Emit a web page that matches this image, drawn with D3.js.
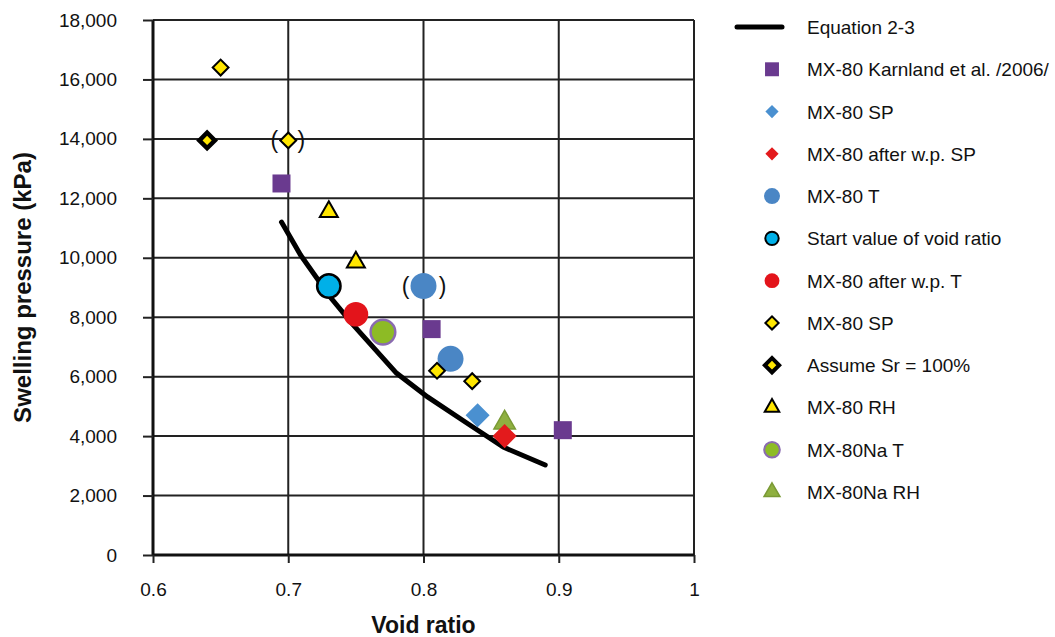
<!DOCTYPE html>
<html>
<head>
<meta charset="utf-8">
<script src="https://cdn.jsdelivr.net/npm/d3@7"></script>
<style>
  body { margin: 0; background: #fff; }
  svg { font-family: "Liberation Sans", Arial, sans-serif; }
</style>
</head>
<body>
<div id="chart"></div>
<script>
// --- data ---
const xTicks = [0.6, 0.7, 0.8, 0.9, 1];
const yTicks = [0, 2000, 4000, 6000, 8000, 10000, 12000, 14000, 16000, 18000];

const equationCurve = [
  [0.695, 11200], [0.709, 10100], [0.731, 8680], [0.748, 7740], [0.780, 6120],
  [0.803, 5320], [0.832, 4440], [0.859, 3630], [0.890, 3030]
];
const karnland = [[0.695, 12500], [0.806, 7600], [0.903, 4200]];
const mx80SP = [[0.84, 4700]];
const mx80AfterSP = [[0.86, 4000]];
const mx80T = [[0.80, 9050], [0.82, 6600]];
const startVoid = [[0.73, 9050]];
const mx80AfterT = [[0.75, 8100]];
const mx80SPyellow = [[0.65, 16400], [0.70, 13950], [0.81, 6200], [0.836, 5850]];
const assumeSr = [[0.64, 13950]];
const mx80RH = [[0.73, 11550], [0.75, 9850]];
const mx80NaT = [[0.77, 7500]];
const mx80NaRH = [[0.86, 4450]];
const bracketed = [[0.70, 13950], [0.80, 9050]]; // points shown in parentheses

const legendLabels = [
  'Equation 2-3', 'MX-80 Karnland et al. /2006/', 'MX-80 SP', 'MX-80 after w.p. SP',
  'MX-80 T', 'Start value of void ratio', 'MX-80 after w.p. T', 'MX-80 SP',
  'Assume Sr = 100%', 'MX-80 RH', 'MX-80Na T', 'MX-80Na RH'
];

// --- layout ---
const W = 1055, H = 637;
const margin = { top: 20, left: 153, right: 361, bottom: 82 };
const plotW = W - margin.left - margin.right;
const plotH = H - margin.top - margin.bottom;

const svg = d3.select('#chart').append('svg').attr('width', W).attr('height', H);
const g = svg.append('g').attr('transform', `translate(${margin.left},${margin.top})`);

const x = d3.scaleLinear().domain([0.6, 1]).range([0, plotW]);
const y = d3.scaleLinear().domain([0, 18000]).range([plotH, 0]);

// grid
g.selectAll('.hgrid').data(yTicks.slice(1)).join('line')
  .attr('x1', 0).attr('x2', plotW)
  .attr('y1', d => y(d)).attr('y2', d => y(d))
  .attr('stroke', '#222').attr('stroke-width', 2);
g.selectAll('.vgrid').data(xTicks.slice(1)).join('line')
  .attr('x1', d => x(d)).attr('x2', d => x(d))
  .attr('y1', 0).attr('y2', plotH)
  .attr('stroke', '#222').attr('stroke-width', 2);

// axes
const fmt = d3.format(',');
const yAxis = g.append('g')
  .call(d3.axisLeft(y).tickValues(yTicks).tickFormat(fmt).tickSize(10).tickPadding(26));
const xAxis = g.append('g').attr('transform', `translate(0,${plotH})`)
  .call(d3.axisBottom(x).tickValues(xTicks).tickFormat(d3.format('')).tickSize(8).tickPadding(20));
[yAxis, xAxis].forEach(a => {
  a.select('.domain').attr('stroke', '#111').attr('stroke-width', 3);
  a.selectAll('.tick line').attr('stroke', '#222').attr('stroke-width', 2);
  a.selectAll('.tick text').attr('fill', '#111').style('font-size', '19px');
});
yAxis.select('.domain').attr('d', `M0,${plotH}V0`);
xAxis.select('.domain').attr('d', `M0,0H${plotW}`);

// axis titles
svg.append('text')
  .attr('transform', `translate(31,${margin.top + plotH / 2}) rotate(-90)`)
  .attr('text-anchor', 'middle')
  .style('font-size', '24px').style('font-weight', 'bold').attr('fill', '#111')
  .text('Swelling pressure (kPa)');
svg.append('text')
  .attr('x', margin.left + plotW / 2).attr('y', 633)
  .attr('text-anchor', 'middle')
  .style('font-size', '23px').style('font-weight', 'bold').attr('fill', '#111')
  .text('Void ratio');

// equation curve
const line = d3.line().x(d => x(d[0])).y(d => y(d[1]));
g.append('path').datum(equationCurve)
  .attr('d', line).attr('fill', 'none')
  .attr('stroke', '#000').attr('stroke-width', 5).attr('stroke-linecap', 'round');

// marker styles
const styles = {
  karnland: { shape: d3.symbolSquare, size: 324, fill: '#6a3a8f', stroke: 'none', sw: 0 },
  mx80SP: { shape: d3.symbolSquare, size: 290, fill: '#4a90d0', stroke: 'none', sw: 0, rot: 45 },
  mx80AfterSP: { shape: d3.symbolSquare, size: 290, fill: '#e31a1c', stroke: 'none', sw: 0, rot: 45 },
  mx80T: { shape: d3.symbolCircle, size: 530, fill: '#4a86c5', stroke: 'none', sw: 0 },
  startVoid: { shape: d3.symbolCircle, size: 430, fill: '#00b0e8', stroke: '#000', sw: 2.5 },
  mx80AfterT: { shape: d3.symbolCircle, size: 480, fill: '#e3141b', stroke: 'none', sw: 0 },
  mx80SPyellow: { shape: d3.symbolSquare, size: 125, fill: '#ffe600', stroke: '#000', sw: 2, rot: 45 },
  assumeSr: { shape: d3.symbolSquare, size: 120, fill: '#ffe600', stroke: '#000', sw: 4.5, rot: 45 },
  mx80RH: { shape: d3.symbolTriangle, size: 140, fill: '#ffe600', stroke: '#000', sw: 2 },
  mx80NaT: { shape: d3.symbolCircle, size: 480, fill: '#8dbb25', stroke: '#8a6bb0', sw: 2.5 },
  mx80NaRH: { shape: d3.symbolTriangle, size: 200, fill: '#8fb040', stroke: '#7a9a35', sw: 1.5 }
};

function drawSeries(data, st) {
  g.append('g').selectAll('path').data(data).join('path')
    .attr('transform', d => `translate(${x(d[0])},${y(d[1])})` + (st.rot ? ` rotate(${st.rot})` : ''))
    .attr('d', d3.symbol().type(st.shape).size(st.size))
    .attr('fill', st.fill).attr('stroke', st.stroke).attr('stroke-width', st.sw)
    .attr('stroke-linejoin', 'miter');
}

drawSeries(karnland, styles.karnland);
drawSeries(mx80T, styles.mx80T);
drawSeries(mx80SP, styles.mx80SP);
drawSeries(mx80NaRH, styles.mx80NaRH);
drawSeries(mx80AfterSP, styles.mx80AfterSP);
drawSeries(startVoid, styles.startVoid);
drawSeries(mx80AfterT, styles.mx80AfterT);
drawSeries(mx80NaT, styles.mx80NaT);
drawSeries(mx80SPyellow, styles.mx80SPyellow);
drawSeries(assumeSr, styles.assumeSr);
drawSeries(mx80RH, styles.mx80RH);

// parentheses round doubtful values
const gapL = [14, 18], gapR = [13, 19];
bracketed.forEach((d, i) => {
  ['(', ')'].forEach((c, j) => {
    g.append('text')
      .attr('x', x(d[0]) + (j ? gapR[i] : -gapL[i]))
      .attr('y', y(d[1]) + 8)
      .attr('text-anchor', 'middle')
      .style('font-size', '23px').attr('fill', '#111')
      .text(c);
  });
});

// legend
const legendKeys = [null, 'karnland', 'mx80SP', 'mx80AfterSP', 'mx80T', 'startVoid',
  'mx80AfterT', 'mx80SPyellow', 'assumeSr', 'mx80RH', 'mx80NaT', 'mx80NaRH'];
const legendScale = { karnland: 0.6, mx80SP: 0.3, mx80AfterSP: 0.3, mx80T: 0.38, startVoid: 0.33,
  mx80AfterT: 0.36, mx80SPyellow: 0.7, assumeSr: 0.85, mx80RH: 0.65, mx80NaT: 0.4, mx80NaRH: 0.55 };
const legend = svg.append('g');
const rowY = d3.scaleLinear().domain([0, legendLabels.length - 1]).range([27, 492]);
legendLabels.forEach((lab, i) => {
  const yy = rowY(i);
  const key = legendKeys[i];
  if (!key) {
    legend.append('line').attr('x1', 737).attr('x2', 782).attr('y1', yy).attr('y2', yy)
      .attr('stroke', '#000').attr('stroke-width', 5).attr('stroke-linecap', 'round');
  } else {
    const st = styles[key];
    legend.append('path')
      .attr('transform', `translate(772,${yy})` + (st.rot ? ` rotate(${st.rot})` : ''))
      .attr('d', d3.symbol().type(st.shape).size(st.size * legendScale[key]))
      .attr('fill', st.fill).attr('stroke', st.stroke)
      .attr('stroke-width', key === 'assumeSr' ? 4 : Math.min(st.sw, 2));
  }
  legend.append('text').attr('x', 807).attr('y', yy + 7)
    .style('font-size', '19px').attr('fill', '#111').text(lab);
});
</script>
</body>
</html>
